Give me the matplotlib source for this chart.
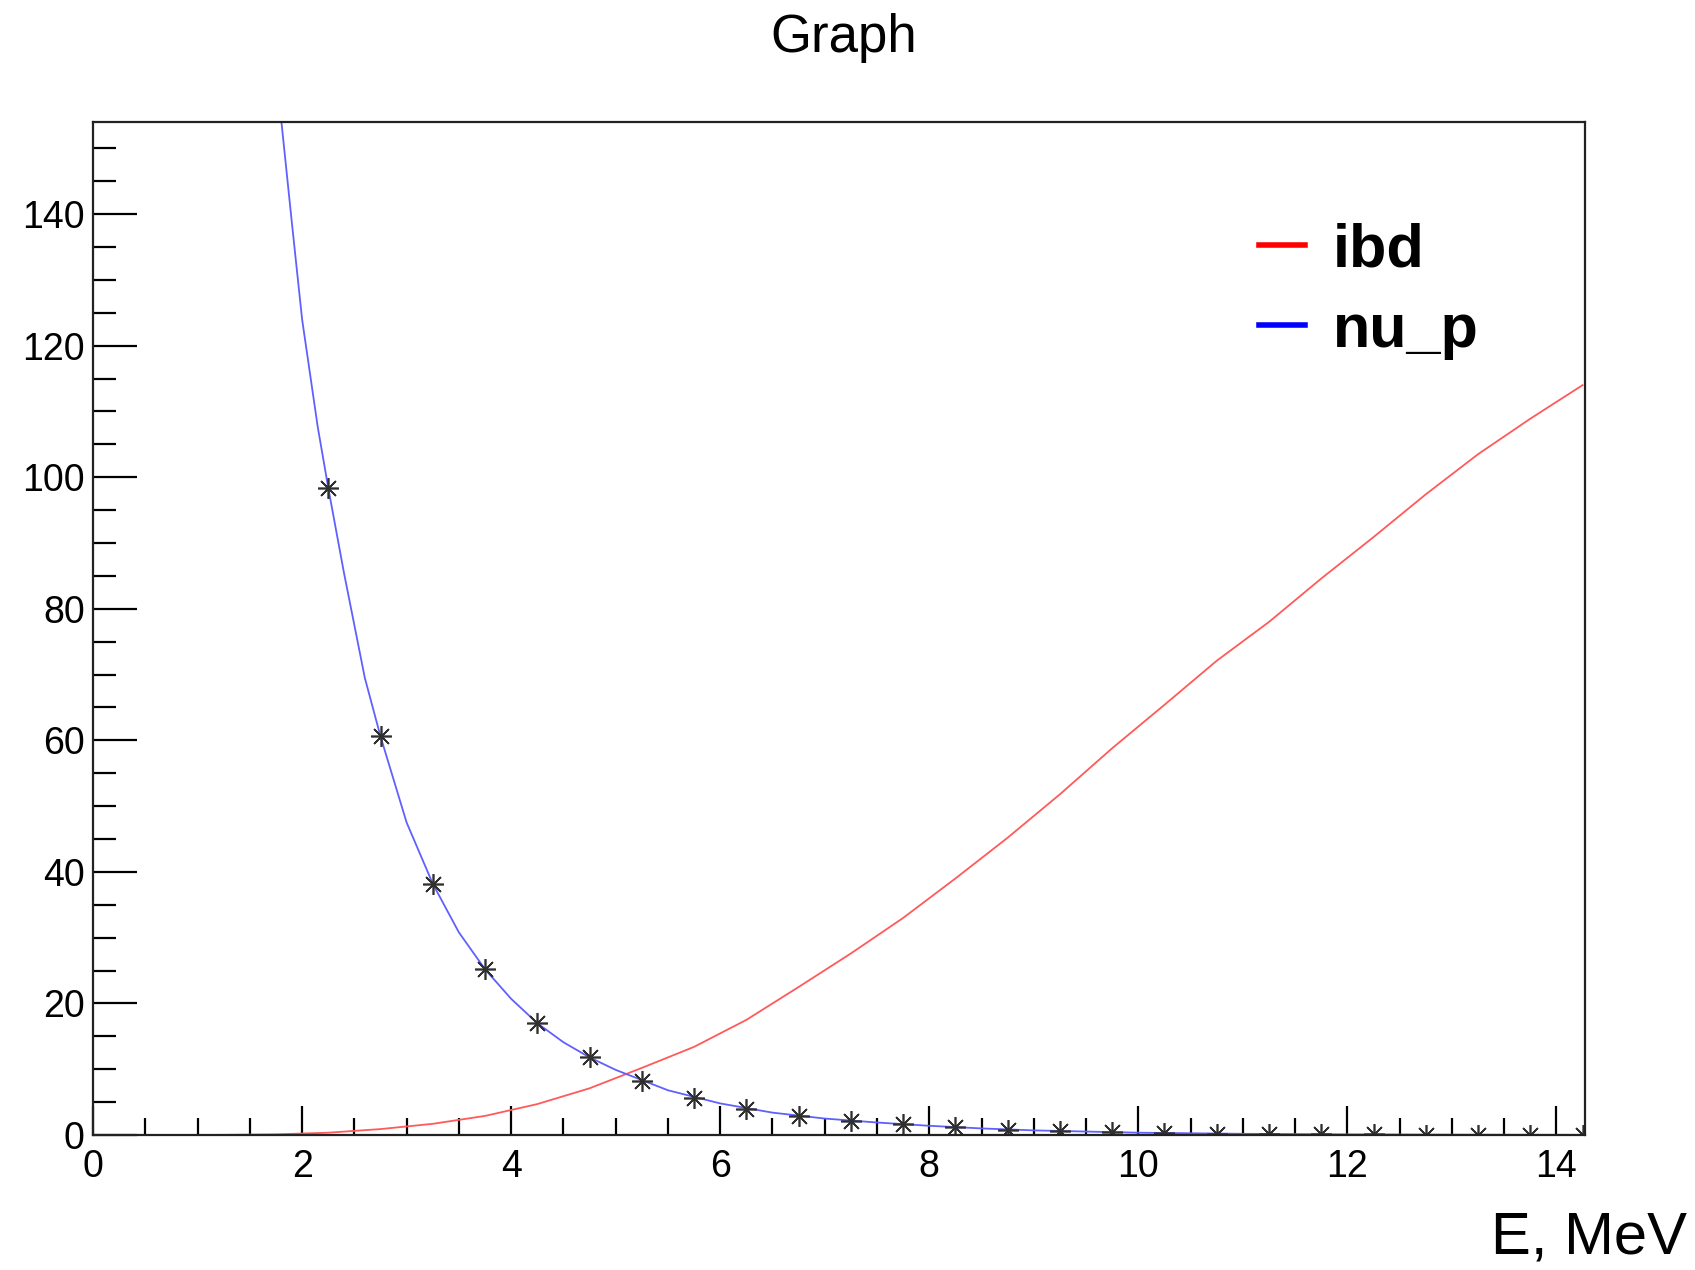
import numpy as np
from matplotlib import pyplot as plt
from matplotlib.ticker import MultipleLocator

plt.rcParams['font.family'] = ['Liberation Sans', 'DejaVu Sans']

# nu_p points (asterisks)
nup_x = [2.25, 2.75, 3.25, 3.75, 4.25, 4.75, 5.25, 5.75, 6.25, 6.75, 7.25, 7.75, 8.25,
         8.75, 9.25, 9.75, 10.25, 10.75, 11.25, 11.75, 12.25, 12.75, 13.25, 13.75, 14.25]
nup_y = [98.4, 60.6, 38.2, 25.2, 17.0, 11.8, 8.2, 5.6, 4.0, 2.9, 2.1, 1.7, 1.2,
         0.8, 0.6, 0.4, 0.3, 0.2, 0.15, 0.1, 0.08, 0.06, 0.05, 0.03, 0.02]

# nu_p curve (blue line)
nup_line_x = [1.75, 1.9, 2.0, 2.15, 2.25, 2.4, 2.6, 2.75, 3.0, 3.25, 3.5, 3.75, 4.0, 4.25,
              4.5, 4.75, 5.0, 5.5, 6.0, 6.5, 7.0, 7.5, 8.0, 8.5, 9.0, 10.0, 11.0, 12.0,
              13.0, 14.25]
nup_line_y = [162, 139, 124, 107.6, 98.4, 85.5, 69.5, 60.6, 47.5, 38.2, 30.8, 25.2, 20.7, 17.0,
              14.1, 11.8, 9.9, 6.8, 4.8, 3.4, 2.5, 1.9, 1.4, 1.0, 0.7, 0.35, 0.18, 0.09,
              0.05, 0.02]

# ibd curve (red line)
ibd_x = [0.75, 1.25, 1.75, 2.25, 2.75, 3.25, 3.75, 4.25, 4.75, 5.25, 5.75, 6.25, 6.75, 7.25,
         7.75, 8.25, 8.75, 9.25, 9.75, 10.25, 10.75, 11.25, 11.75, 12.25, 12.75, 13.25,
         13.75, 14.25]
ibd_y = [0.0, 0.02, 0.1, 0.35, 0.9, 1.7, 2.9, 4.7, 7.1, 10.2, 13.4, 17.5, 22.5, 27.6,
         33.0, 39.0, 45.2, 51.8, 58.8, 65.4, 72.1, 78.0, 84.6, 90.9, 97.4, 103.5,
         108.9, 114.0]

fig = plt.figure(figsize=(16.95, 12.7), dpi=100)
ax = fig.add_axes([0.0549, 0.1063, 0.880, 0.7976])

ax.plot(ibd_x, ibd_y, color='#ff5a5a', lw=1.3)
ax.plot(nup_line_x, nup_line_y, color='#6060ff', lw=1.3)
ax.plot(nup_x, nup_y, ls='none', marker=(8, 2, 0), ms=15, mew=1.2, color='#303030')

# legend handles
ax.plot([], [], color='red', lw=4, label='ibd')
ax.plot([], [], color='blue', lw=4, label='nu_p')
handles, labels = ax.get_legend_handles_labels()
leg = ax.legend(handles[-2:], labels[-2:], loc='upper left', bbox_to_anchor=(0.745, 0.955),
                frameon=False, handlelength=0.75, handletextpad=0.45, labelspacing=0.38,
                prop={'size': 44, 'weight': 'bold'})

ax.set_xlim(0, 14.27)
ax.set_ylim(0, 154)
ax.xaxis.set_major_locator(MultipleLocator(2))
ax.xaxis.set_minor_locator(MultipleLocator(0.5))
ax.yaxis.set_major_locator(MultipleLocator(20))
ax.yaxis.set_minor_locator(MultipleLocator(5))

ax.tick_params(axis='y', which='major', direction='in', length=32, width=1.6, labelsize=27, pad=6)
ax.tick_params(axis='y', which='minor', direction='in', length=16.5, width=1.6)
ax.tick_params(axis='x', which='major', direction='in', length=21, width=1.6, labelsize=27, pad=10)
ax.tick_params(axis='x', which='minor', direction='in', length=12.5, width=1.6)
for s in ax.spines.values():
    s.set_linewidth(1.6)
    s.set_color('#222222')

fig.text(0.4975, 0.970, 'Graph', ha='center', va='center', fontsize=38)
fig.text(0.995, 0.025, 'E, MeV', ha='right', va='center', fontsize=43)

fig.savefig('out.png', dpi=100)
